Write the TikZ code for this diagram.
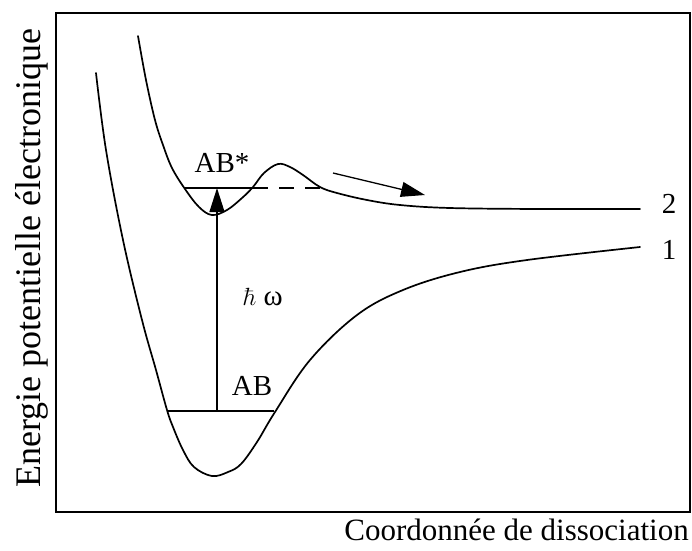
\documentclass[tikz,border=0pt]{standalone}
\usepackage[no-math]{fontspec}
\setmainfont{Liberation Serif}
\usetikzlibrary{arrows.meta}
\begin{document}
\begin{tikzpicture}[x=1pt,y=-1pt,
  curve/.style={line width=1.7pt, line join=round, line cap=round},
  level/.style={line width=1.8pt},
  lbl/.style={font=\fontsize{29}{32}\selectfont, inner sep=0pt, anchor=base},
  tipped/.style={line width=1.3pt, -{Triangle[length=24pt,width=15pt]}}]
\useasboundingbox (0,0) rectangle (692,550);
% frame
\draw[line width=2pt] (56,13) rectangle (690,512);
% curve 1 (ground state)
\draw[curve] plot[smooth, tension=0.6] coordinates {(96,73) (106,150) (123,240) (142,320) (156,370) (167,410) (173,427) (183,450) (194,467) (212,476) (228,472) (241,464) (257,442) (275,412) (310,360) (357,315) (403,290) (460,272) (527,260) (640,247)};
% curve 2 (excited state)
\draw[curve] plot[smooth, tension=0.6] coordinates {(138,36) (146,80) (155,120) (163,145) (172,168) (185,189) (199,207) (212,215) (227,210) (242,198) (253,187) (264,173) (278,164) (290,167) (303,175) (320,187) (337,193) (367,200) (400,205) (450,208) (540,209) (640,209)};
% levels
\coordinate (abL) at (167,411);
\coordinate (abR) at (274,411);
\coordinate (abM) at (217,411);
\coordinate (absL) at (184,188);
\coordinate (absX) at (253,188);
\coordinate (absR) at (322,188);
\coordinate (absM) at (217,188);
\draw[level] (abL) -- (abR);
\draw[level] (absL) -- (absX);
\draw[level, dash pattern=on 15pt off 11pt] (absX) -- (absR);
% transition arrow
\draw[tipped] (abM) -- (absM);
% dissociation arrow
\coordinate (dA) at (333,173);
\coordinate (dB) at (425,195);
\draw[tipped] (dA) -- (dB);
% labels
\node[lbl] (lAB) at (252,395) {AB};
\node[lbl] (lABs) at (222,172) {AB*};
\node[lbl] (lhw) at (263,305) {$\hbar$\ ω};
\node[lbl] (l2) at (669,213) {2};
\node[lbl] (l1) at (669,259) {1};
\node[font=\fontsize{31}{34}\selectfont, inner sep=0pt, anchor=base east] (xl) at (689,540) {Coordonnée de dissociation};
\node[font=\fontsize{36}{40}\selectfont, inner sep=0pt, anchor=base, rotate=90] (yl) at (40,258) {Energie potentielle électronique};
\end{tikzpicture}
\end{document}
